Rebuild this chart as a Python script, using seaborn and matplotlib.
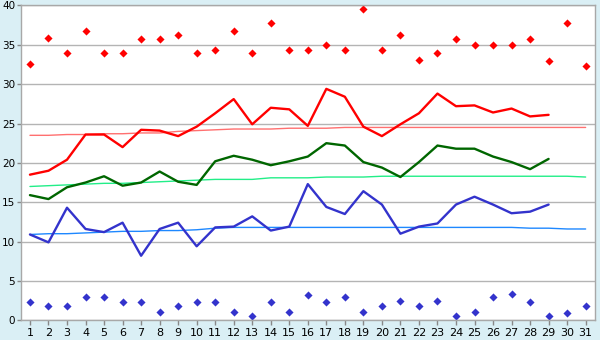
import numpy as np
import pandas as pd
import matplotlib.pyplot as plt
import seaborn as sns

# Daily values for one month
days = list(range(1, 32))
max_temp = [18.5, 19.0, 20.4, 23.6, 23.6, 22.0, 24.2, 24.1, 23.4, 24.6,
            26.3, 28.1, 24.9, 27.0, 26.8, 24.7, 29.4, 28.4, 24.6, 23.4,
            24.9, 26.3, 28.8, 27.2, 27.3, 26.4, 26.9, 25.9, 26.1]
mean_temp = [15.9, 15.4, 16.9, 17.5, 18.3, 17.1, 17.5, 18.9, 17.6, 17.2,
             20.2, 20.9, 20.4, 19.7, 20.2, 20.8, 22.5, 22.2, 20.1, 19.4,
             18.2, 20.1, 22.2, 21.8, 21.8, 20.8, 20.1, 19.2, 20.5]
min_temp = [10.9, 9.9, 14.3, 11.6, 11.2, 12.4, 8.2, 11.6, 12.4, 9.4,
            11.8, 11.9, 13.2, 11.4, 11.9, 17.3, 14.4, 13.5, 16.4, 14.7,
            11.0, 11.9, 12.3, 14.7, 15.7, 14.7, 13.6, 13.8, 14.7]
max_normal = [23.5, 23.5, 23.6, 23.6, 23.7, 23.7, 23.8, 23.8, 24.0, 24.1,
              24.2, 24.3, 24.3, 24.3, 24.4, 24.4, 24.4, 24.5, 24.5, 24.5,
              24.5, 24.5, 24.5, 24.5, 24.5, 24.5, 24.5, 24.5, 24.5, 24.5, 24.5]
mean_normal = [17.0, 17.1, 17.2, 17.3, 17.4, 17.4, 17.5, 17.6, 17.7, 17.8,
               17.9, 17.9, 17.9, 18.1, 18.1, 18.1, 18.2, 18.2, 18.2, 18.3,
               18.3, 18.3, 18.3, 18.3, 18.3, 18.3, 18.3, 18.3, 18.3, 18.3, 18.2]
min_normal = [10.9, 11.0, 11.0, 11.1, 11.2, 11.3, 11.3, 11.4, 11.4, 11.5,
              11.7, 11.8, 11.8, 11.8, 11.8, 11.8, 11.8, 11.8, 11.8, 11.8,
              11.8, 11.8, 11.8, 11.8, 11.8, 11.8, 11.8, 11.7, 11.7, 11.6, 11.6]
record_high = [32.5, 35.8, 33.9, 36.8, 33.9, 33.9, 35.7, 35.7, 36.2, 33.9,
               34.4, 36.8, 34.0, 37.8, 34.4, 34.4, 35.0, 34.4, 39.5, 34.4,
               36.3, 33.1, 33.9, 35.7, 35.0, 35.0, 35.0, 35.7, 33.0, 37.8, 32.3]
record_low = [2.3, 1.8, 1.8, 2.9, 2.9, 2.3, 2.3, 1.0, 1.8, 2.3,
              2.3, 1.1, 0.6, 2.3, 1.1, 3.2, 2.3, 2.9, 1.1, 1.8,
              2.4, 1.8, 2.5, 0.6, 1.1, 2.9, 3.3, 2.3, 0.6, 0.9, 1.8]

pad = [np.nan] * (len(days) - len(max_temp))
df = pd.DataFrame({
    "day": days,
    "max": max_temp + pad,
    "mean": mean_temp + pad,
    "min": min_temp + pad,
    "max_n": max_normal,
    "mean_n": mean_normal,
    "min_n": min_normal,
    "rec_hi": record_high,
    "rec_lo": record_low,
})

sns.set_style("white")
plt.rcParams['font.family'] = ['DejaVu Sans']

fig = plt.figure(figsize=(6, 3.4), dpi=100, facecolor="#DAEFF5")
ax = fig.add_axes([0.0345, 0.058, 0.957, 0.926])
ax.set_facecolor("white")

# normals
sns.lineplot(data=df, x="day", y="max_n", color="#FF7070", linewidth=1, ax=ax)
sns.lineplot(data=df, x="day", y="mean_n", color="#22EE88", linewidth=1, ax=ax)
sns.lineplot(data=df, x="day", y="min_n", color="#1E88FF", linewidth=1, ax=ax)

# observed
sns.lineplot(data=df, x="day", y="max", color="#FF0000", linewidth=1.7, ax=ax)
sns.lineplot(data=df, x="day", y="mean", color="#006600", linewidth=1.7, ax=ax)
sns.lineplot(data=df, x="day", y="min", color="#3333CC", linewidth=1.7, ax=ax)

# records
sns.scatterplot(data=df, x="day", y="rec_hi", color="#FF0000", marker="D",
                s=17, linewidth=0, ax=ax)
sns.scatterplot(data=df, x="day", y="rec_lo", color="#3333CC", marker="D",
                s=17, linewidth=0, ax=ax)

ax.set_xlim(0.5, 31.5)
ax.set_ylim(0, 40)
ax.set_xticks(days)
ax.set_yticks(range(0, 45, 5))
ax.set_xlabel("")
ax.set_ylabel("")
ax.yaxis.grid(True, color="#B4B4B4", linewidth=1)
ax.set_axisbelow(True)
for s in ax.spines.values():
    s.set_color("#A8A8A8")
    s.set_linewidth(1)
ax.tick_params(axis="x", bottom=True, length=3.5, width=1, color="#888888",
               labelsize=8, pad=2, labelcolor="black")
ax.tick_params(axis="y", left=True, length=3, width=1, color="#888888",
               labelsize=7.5, pad=1, labelcolor="black")

fig.savefig("out.png", dpi=100, facecolor=fig.get_facecolor())
